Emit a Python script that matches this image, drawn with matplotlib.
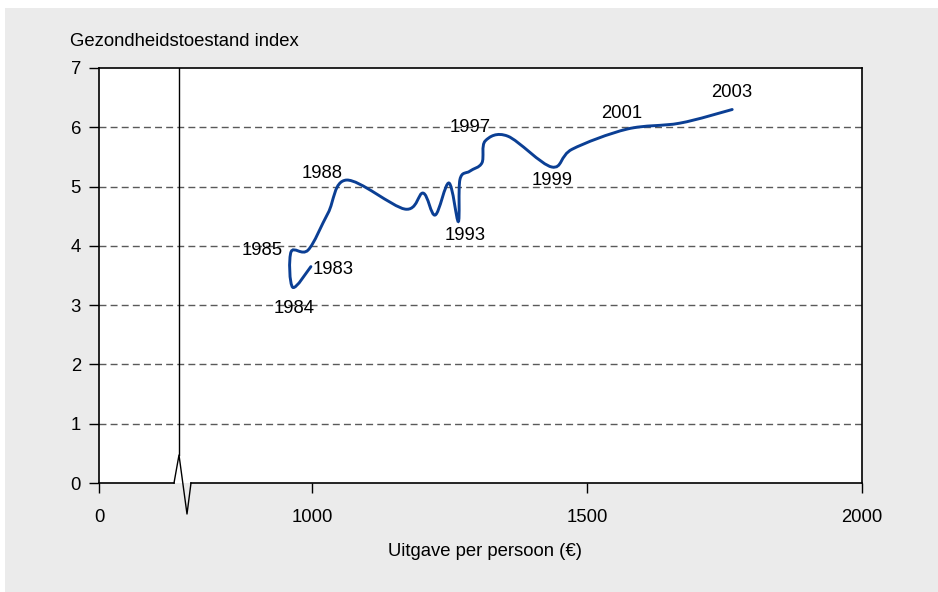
import numpy as np
import matplotlib
matplotlib.use("Agg")
import matplotlib.pyplot as plt
from matplotlib import font_manager
from matplotlib.path import Path
from matplotlib.patches import PathPatch, Rectangle
from matplotlib.lines import Line2D

# data: health index vs spending per person, per year
years = list(range(1983, 2004))
spend = [998, 965, 962, 993, 1029, 1063, 1169, 1202, 1224, 1249, 1266,
         1269, 1287, 1309, 1315, 1356, 1436, 1473, 1573, 1669, 1764]
index = [3.65, 3.30, 3.90, 3.93, 4.55, 5.11, 4.62, 4.89, 4.52, 5.06, 4.41,
         5.12, 5.26, 5.40, 5.77, 5.85, 5.33, 5.63, 5.97, 6.07, 6.30]

labelled = [1983, 1984, 1985, 1988, 1993, 1997, 1999, 2001, 2003]
# label offsets in points
offsets = {1983: (16, -2), 1984: (1, -15), 1985: (-21, 1), 1988: (-18, 5),
           1993: (5, -10), 1997: (-11, 10), 1999: (0, -10), 2001: (-4, 11),
           2003: (0, 12.5)}

xticks = [1000, 1500, 2000]
yticks = [0, 1, 2, 3, 4, 5, 6, 7]

names = [f.name for f in font_manager.fontManager.ttflist]
if "Liberation Sans Narrow" in names:
    fam, fs = "Liberation Sans Narrow", 15.5
else:
    fam, fs = "Liberation Sans", 13.3
plt.rcParams["font.family"] = fam
plt.rcParams["font.size"] = fs

W, H = 938, 592
fig = plt.figure(figsize=(W / 100, H / 100), dpi=100)
fig.patches.append(Rectangle((5 / W, 0), 1, 1 - 8 / H, transform=fig.transFigure,
                             facecolor="#ebebeb", edgecolor="none", zorder=-10))

L, R, T, B = 99, 862, 68, 483
ax = fig.add_axes([L / W, 1 - B / H, (R - L) / W, (B - T) / H])
ax.set_facecolor("white")

# broken axis: left part is squeezed, "0" sits at the left edge
x_left = 1000 - (312 - L) / 0.55
ax.set_xlim(x_left, 2000)
ax.set_ylim(0, 7)
ax.set_xticks([x_left] + xticks, ["0"] + [str(v) for v in xticks])
ax.set_yticks(yticks)
ax.tick_params(direction="out", length=7, width=1, color="black")
ax.tick_params(axis="x", pad=12)
ax.tick_params(axis="y", pad=6)

for y in yticks[1:-1]:
    ax.axhline(y, color="#5a5a5a", lw=1, ls=(0, (5, 3)), zorder=1)

for s in ax.spines.values():
    s.set_linewidth(1.2)
ax.spines["bottom"].set_visible(False)

# bottom line with a break mark
bx0, bx1 = (174 - L) / (R - L), (191 - L) / (R - L)
vx = (179 - L) / (R - L)
ax.add_line(Line2D([0, bx0], [0, 0], transform=ax.transAxes, color="black",
                   lw=1.2, clip_on=False, zorder=5))
ax.add_line(Line2D([bx1, 1], [0, 0], transform=ax.transAxes, color="black",
                   lw=1.2, clip_on=False, zorder=5))
ax.add_line(Line2D([bx0, vx, (187 - L) / (R - L), bx1],
                   [0, (B - 455) / (B - T), -(514 - B) / (B - T), 0],
                   transform=ax.transAxes, color="black", lw=1,
                   clip_on=False, zorder=5))
ax.add_line(Line2D([vx, vx], [(B - 455) / (B - T), 1], transform=ax.transAxes,
                   color="black", lw=1, zorder=5))

# smoothed line through the yearly points (bezier like a spreadsheet curve)
P = np.column_stack([spend, index]).astype(float)
n = len(P)
verts = [P[0]]
codes = [Path.MOVETO]
for i in range(n - 1):
    p0 = P[i - 1] if i > 0 else P[i]
    p3 = P[i + 2] if i + 2 < n else P[i + 1]
    c1 = P[i] + (P[i + 1] - p0) / 6
    c2 = P[i + 1] - (p3 - P[i]) / 6
    verts += [c1, c2, P[i + 1]]
    codes += [Path.CURVE4] * 3
ax.add_patch(PathPatch(Path(verts, codes), facecolor="none",
                       edgecolor="#0b3f94", lw=2.1, zorder=4, capstyle="round"))

for yr in labelled:
    k = years.index(yr)
    ax.annotate(str(yr), xy=(spend[k], index[k]), xytext=offsets[yr],
                textcoords="offset points", ha="center", va="center", zorder=6)

fig.text(70 / W, 1 - 41 / H, "Gezondheidstoestand index", ha="left", va="center")
fig.text(485 / W, 1 - 552 / H, "Uitgave per persoon (€)", ha="center", va="center")

fig.savefig("out.png", dpi=100)
